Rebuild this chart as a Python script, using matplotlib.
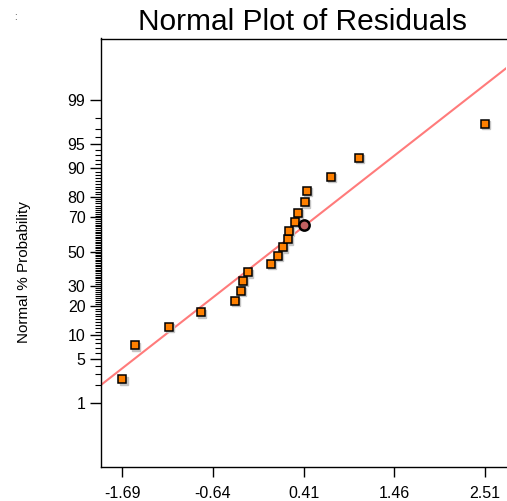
import numpy as np
import matplotlib
matplotlib.use('Agg')
import matplotlib.pyplot as plt
from matplotlib import transforms, font_manager
from statistics import NormalDist

# ---- data ----
residuals = [-1.69, -1.543, -1.15, -0.78, -0.382, -0.313, -0.293, -0.239,
             0.031, 0.115, 0.166, 0.228, 0.236, 0.309, 0.34, 0.421,
             0.451, 0.729, 1.053, 2.51]
probabilities = [2.5, 7.5, 12.5, 17.5, 22.5, 27.5, 32.5, 37.5, 42.5, 47.5,
                 52.5, 57.5, 62.5, 67.5, 72.5, 77.5, 82.5, 87.5, 92.5, 97.5]
selected_residual = [0.41]
selected_probability = [66.0]
ytick_values = [1, 5, 10, 20, 30, 50, 70, 80, 90, 95, 99]
ytick_minor = list(range(1, 100))
xtick_values = [-1.69, -0.64, 0.41, 1.46, 2.51]
xtick_labels = ["-1.69", "-0.64", "0.41", "1.46", "2.51"]
fit_center = 0.04
fit_scale = 0.966
title_text = "Normal Plot of Residuals"
ylabel_text = "Normal % Probability"

nd = NormalDist()
_ppf = np.vectorize(nd.inv_cdf, otypes=[float])
_cdf = np.vectorize(nd.cdf, otypes=[float])


def fwd(p):
    p = np.clip(np.asarray(p, dtype=float) / 100.0, 1e-12, 1 - 1e-12)
    return _ppf(p)


def inv(z):
    return _cdf(np.asarray(z, dtype=float)) * 100.0


W, H = 507, 501
fig = plt.figure(figsize=(W / 100, H / 100), dpi=100)
left, right, top, bottom = 100.7, 506.0, 38.5, 467.0
ax = fig.add_axes([left / W, 1 - bottom / H, (right - left) / W, (bottom - top) / H])
ax.set_yscale('function', functions=(fwd, inv))
ax.set_xlim(-1.94, 2.755)
ax.set_ylim(0.0475, 99.946)

font = 'Liberation Sans'
installed = {f.name for f in font_manager.fontManager.ttflist}
narrow = 'Liberation Sans Narrow' in installed

# fit line
xs = np.linspace(-1.94, 2.755, 300)
ax.plot(xs, inv((xs - fit_center) / fit_scale), color='#ff7b7b', lw=1.5, zorder=2)

# shadow of squares
shadow = transforms.offset_copy(ax.transData, fig=fig, x=1.3, y=-1.3, units='dots')
ax.plot(residuals, probabilities, linestyle='none', marker='s', ms=5.6,
        mfc='#c4c4c4', mec='#c4c4c4', mew=1.0, transform=shadow, zorder=3)
ax.plot(residuals, probabilities, linestyle='none', marker='s', ms=5.2,
        mfc='#ff8000', mec='black', mew=1.1, zorder=4)
ax.plot(selected_residual, selected_probability, linestyle='none', marker='o',
        ms=7.4, mfc='#c06060', mec='black', mew=1.8, zorder=5)

# axes styling
ax.spines['right'].set_visible(False)
for s in ('left', 'bottom', 'top'):
    ax.spines[s].set_linewidth(1.0)
    ax.spines[s].set_color('black')

ax.set_yticks(ytick_values)
ax.set_yticklabels([str(v) for v in ytick_values])
ax.set_yticks(ytick_minor, minor=True)
ax.set_xticks(xtick_values)
ax.set_xticklabels(xtick_labels)

ax.tick_params(axis='y', which='major', length=8, width=1.0, pad=3,
               labelsize=11.5, direction='out')
ax.tick_params(axis='y', which='minor', length=4, width=0.8, direction='out')
ax.tick_params(axis='x', which='major', length=7.5, width=1.0, pad=6.5,
               labelsize=11.5, direction='out')
ax.tick_params(axis='x', which='minor', length=0)
for lab in ax.get_xticklabels() + ax.get_yticklabels():
    lab.set_fontfamily(font)

fig.text(303 / W, 1 - 30 / H, title_text, ha='center', va='baseline',
         fontsize=21.5, family=font)
if narrow:
    fig.text(24 / W, 1 - 272.5 / H, ylabel_text, rotation=90, ha='center',
             va='center', fontsize=13, family='Liberation Sans Narrow')
else:
    fig.text(24 / W, 1 - 272.5 / H, ylabel_text, rotation=90, ha='center',
             va='center', fontsize=11, family=font)
fig.text(15 / W, 1 - 17 / H, ":", ha='center', va='center', fontsize=7,
         color='#333333', family=font)

fig.savefig('out.png', dpi=100)
